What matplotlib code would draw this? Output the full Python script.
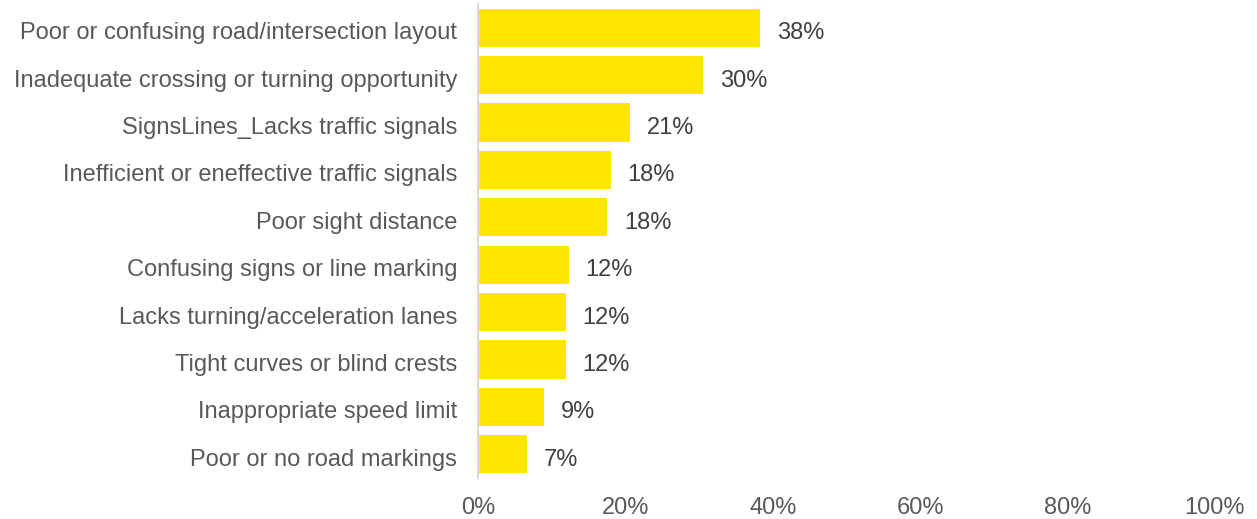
import matplotlib

matplotlib.use("Agg")
import matplotlib.pyplot as plt
import matplotlib.transforms as mtransforms
from matplotlib.ticker import FixedLocator, FuncFormatter

categories = [
    "Poor or confusing road/intersection layout",
    "Inadequate crossing or turning opportunity",
    "SignsLines_Lacks traffic signals",
    "Inefficient or eneffective traffic signals",
    "Poor sight distance",
    "Confusing signs or line marking",
    "Lacks turning/acceleration lanes",
    "Tight curves or blind crests",
    "Inappropriate speed limit",
    "Poor or no road markings",
]
shares = [38.3, 30.5, 20.6, 18.0, 17.5, 12.3, 11.9, 11.9, 9.0, 6.6]
x_ticks = [0, 20, 40, 60, 80, 100]

BAR_COLOR = "#FFE600"
TEXT_COLOR = "#595959"
LABEL_COLOR = "#404040"
FS = 17

plt.rcParams["font.family"] = ["Liberation Sans", "DejaVu Sans"]

fig = plt.figure(figsize=(12.57, 5.19), dpi=100)
ax = fig.add_axes([478 / 1257, 41 / 519, 737 / 1257, 474 / 519])

ypos = list(range(len(categories)))
bars = ax.barh(ypos, shares, height=0.81, color=BAR_COLOR, edgecolor="none")
ax.set_ylim(len(categories) - 0.5, -0.5)
ax.set_xlim(0, 100)

ax.set_yticks(ypos)
ax.set_yticklabels(categories, fontsize=FS, color=TEXT_COLOR)
ax.xaxis.set_major_locator(FixedLocator(x_ticks))
ax.xaxis.set_major_formatter(FuncFormatter(lambda v, _: f"{v:.0f}%"))
ax.tick_params(axis="x", length=0, pad=14, labelsize=FS, labelcolor=TEXT_COLOR)
ax.tick_params(axis="y", length=0, pad=15)

# nudge text a few pixels down so it sits centred on the bars
shift = mtransforms.ScaledTranslation(0, -3 / 100, fig.dpi_scale_trans)
for lbl in ax.get_yticklabels():
    lbl.set_transform(lbl.get_transform() + shift)

for side in ("top", "right", "bottom"):
    ax.spines[side].set_visible(False)
ax.spines["left"].set_color("#D9D9D9")
ax.spines["left"].set_linewidth(1.5)

for bar, val in zip(bars, shares):
    ax.text(
        bar.get_width() + 2.3,
        bar.get_y() + bar.get_height() / 2,
        f"{val:.0f}%",
        va="center_baseline",
        ha="left",
        fontsize=FS,
        color=LABEL_COLOR,
        transform=ax.transData + shift,
    )

fig.savefig("out.png", dpi=100)
